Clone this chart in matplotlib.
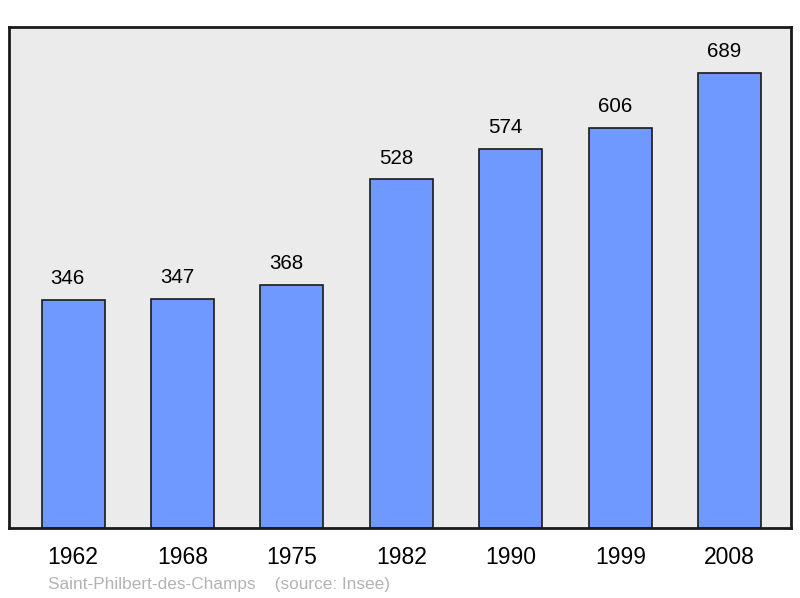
import matplotlib
matplotlib.use("Agg")
import matplotlib.pyplot as plt

years = ["1962", "1968", "1975", "1982", "1990", "1999", "2008"]
population = [346, 347, 368, 528, 574, 606, 689]
source_text = "Saint-Philbert-des-Champs    (source: Insee)"

plt.rcParams['font.family'] = ['Liberation Sans', 'DejaVu Sans']

fig = plt.figure(figsize=(8.0, 5.98), dpi=100)
ax = fig.add_axes([9/800, 70/598, 782/800, 501/598])
ax.set_facecolor('#ebebeb')

x = list(range(len(years)))
ax.bar(x, population, width=0.576, color='#7099ff', edgecolor='#1a1a1a', linewidth=1.2, zorder=2)
for xi, v in zip(x, population):
    ax.annotate(str(v), (xi, v), xytext=(-3.8, 8.5), textcoords='offset points',
                ha='center', va='bottom', fontsize=14.8, color='black')

ax.set_xlim(-0.585, 6.56)
ax.set_ylim(0, 759)
ax.set_yticks([])
ax.set_xticks(x)
ax.set_xticklabels(years, fontsize=16.5)
ax.tick_params(axis='x', length=0, pad=13)
for s in ax.spines.values():
    s.set_linewidth(2)
    s.set_color('#1a1a1a')

fig.text(48/800, 1 - 584/598, source_text, fontsize=12.4, color='#b3b3b3', ha='left', va='center')

fig.savefig("out.png", dpi=100)
